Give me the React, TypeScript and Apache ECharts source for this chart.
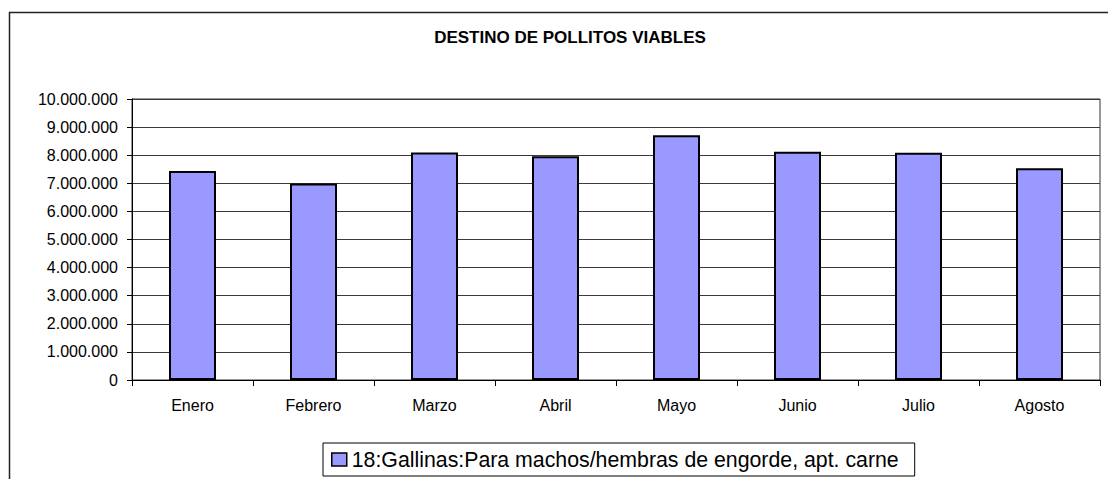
import React, { useEffect, useRef } from "react";
import * as echarts from "echarts";

const TITLE = "DESTINO DE POLLITOS VIABLES";
const SERIES_NAME = "18:Gallinas:Para machos/hembras de engorde, apt. carne";
const categories = ["Enero", "Febrero", "Marzo", "Abril", "Mayo", "Junio", "Julio", "Agosto"];
const values = [7440000, 6990000, 8100000, 7960000, 8710000, 8120000, 8090000, 7540000];
const Y_MIN = 0;
const Y_MAX = 10000000;
const Y_STEP = 1000000;

const FONT = "'Liberation Sans', Arial, sans-serif";

function fmt(v: number): string {
  return String(Math.round(v)).replace(/\B(?=(\d{3})+(?!\d))/g, ".");
}

export default function App() {
  const ref = useRef<HTMLDivElement>(null);
  useEffect(() => {
    if (!ref.current) return;
    const chart = echarts.init(ref.current, null, { renderer: "svg" });
    chart.setOption({
      animation: false,
      backgroundColor: "#fff",
      textStyle: { fontFamily: FONT, color: "#000" },
      title: {
        text: TITLE,
        left: 565,
        top: 24,
        textAlign: "center",
        textStyle: { fontFamily: FONT, fontSize: 17, fontWeight: "bold", color: "#000" },
      },
      graphic: [
        {
          type: "rect",
          shape: { x: 9.5, y: 12.5, width: 1200, height: 600 },
          style: { fill: "none", stroke: "#222", lineWidth: 1.5 },
          silent: true,
          z: -1,
        },
      ],
      legend: {
        show: true,
        left: 323,
        top: 443,
        orient: "horizontal",
        borderColor: "#000",
        borderWidth: 1,
        padding: [6, 16, 6, 8],
        itemWidth: 15,
        itemHeight: 13,
        icon: "rect",
        itemStyle: { borderColor: "#000", borderWidth: 1.5 },
        textStyle: { fontFamily: FONT, fontSize: 21.3, color: "#000" },
        data: [SERIES_NAME],
      },
      grid: {
        left: 132,
        top: 99,
        right: 8,
        bottom: 99,
        show: true,
        borderColor: "#333",
        borderWidth: 1,
        containLabel: false,
      },
      xAxis: {
        type: "category",
        data: categories,
        boundaryGap: true,
        axisLine: { show: true, lineStyle: { color: "#000", width: 1 } },
        axisTick: { show: true, length: 6, lineStyle: { color: "#000" } },
        axisLabel: { fontFamily: FONT, fontSize: 16, color: "#000", margin: 17 },
        splitLine: { show: false },
      },
      yAxis: {
        type: "value",
        min: Y_MIN,
        max: Y_MAX,
        interval: Y_STEP,
        axisLine: { show: true, lineStyle: { color: "#000", width: 1 } },
        axisTick: { show: true, length: 5, lineStyle: { color: "#000" } },
        axisLabel: {
          fontFamily: FONT,
          fontSize: 16,
          color: "#000",
          margin: 14,
          formatter: (v: number) => fmt(v),
        },
        splitLine: { show: true, lineStyle: { color: "#3a3a3a", width: 1 } },
      },
      series: [
        {
          name: SERIES_NAME,
          type: "bar",
          data: values,
          barWidth: 47,
          itemStyle: { color: "#9999FF", borderColor: "#000", borderWidth: 2 },
        },
      ],
    });
    return () => chart.dispose();
  }, []);
  return (
    <div
      ref={ref}
      style={{ position: "fixed", left: 0, top: 0, width: 1108, height: 479 }}
    />
  );
}
